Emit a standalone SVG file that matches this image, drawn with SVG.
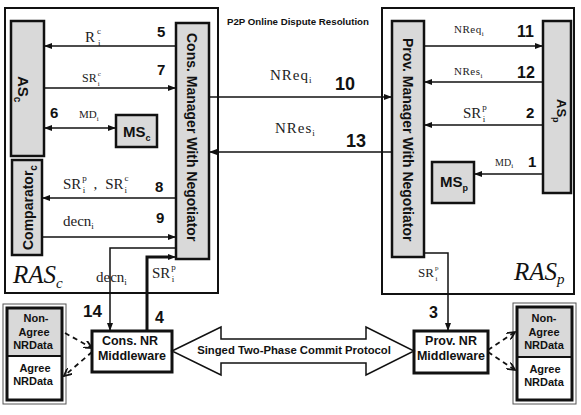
<svg xmlns="http://www.w3.org/2000/svg" width="581" height="415" viewBox="0 0 581 415">
<defs>
<marker id="ah" markerUnits="userSpaceOnUse" markerWidth="8" markerHeight="6" refX="8" refY="3" orient="auto-start-reverse"><path d="M0,0 L8,3 L0,6 z" fill="#111"/></marker>
<marker id="ahd" markerUnits="userSpaceOnUse" markerWidth="9" markerHeight="8" refX="8" refY="4" orient="auto"><path d="M0,0 L8,4 L0,8" fill="none" stroke="#111" stroke-width="1.8"/></marker>
</defs>
<style>
.frame{fill:#fff;stroke:#111;stroke-width:2}
.box{fill:#d9d9d9;stroke:#111;stroke-width:2.5}
.wbox{fill:#fff;stroke:#111;stroke-width:3}
.ln{fill:none;stroke:#111;stroke-width:1.5}
.thick{fill:none;stroke:#111;stroke-width:3}
.dash{fill:none;stroke:#111;stroke-width:1.8;stroke-dasharray:5,4}
.num{font-family:"Liberation Sans",Arial,sans-serif;font-weight:bold;fill:#111}
.bs{font-family:"Liberation Sans",Arial,sans-serif;font-weight:bold;fill:#111}
.sf{font-family:"Liberation Serif","Times New Roman",serif;fill:#222}
.it{font-family:"Liberation Serif","Times New Roman",serif;font-style:italic;fill:#111}
.s{font-size:9px}
.s7{font-size:7px}
</style>
<rect width="581" height="415" fill="#fff"/>

<g id="RASc"><rect class="frame" x="5" y="8" width="213" height="285"/>
<text class="it" x="13" y="283" font-size="25">RAS<tspan font-size="15" dy="5">c</tspan></text></g>
<g id="RASp"><rect class="frame" x="382" y="8" width="192" height="286"/>
<text class="it" x="514" y="280" font-size="25">RAS<tspan font-size="15" dy="4">p</tspan></text></g>

<text class="bs" x="227" y="25" font-size="9.7">P2P Online Dispute Resolution</text>

<g id="ASc"><rect class="box" x="11" y="21" width="33" height="135"/>
<text class="bs" font-size="15" transform="translate(18,76) rotate(90)">AS<tspan font-size="10" dy="4">c</tspan></text></g>
<g id="Comparator"><rect class="box" x="12" y="160" width="30" height="95"/>
<text class="bs" font-size="14" transform="translate(33,250) rotate(-90)">Comparator<tspan font-size="10" dy="4">c</tspan></text></g>
<g id="MSc"><rect class="box" x="116" y="115" width="41" height="32"/>
<text class="bs" x="123" y="137" font-size="15">MS<tspan font-size="9" dy="4">c</tspan></text></g>
<g id="ConsManager"><rect class="box" x="176" y="23" width="33" height="236"/>
<text class="bs" font-size="14" transform="translate(187,33) rotate(90)">Cons. Manager With Negotiator</text></g>

<g id="ProvManager"><rect class="box" x="392" y="21" width="32" height="236"/>
<text class="bs" font-size="14" transform="translate(403,38) rotate(90)">Prov. Manager With Negotiator</text></g>
<g id="ASp"><rect class="box" x="543" y="21" width="28" height="172"/>
<text class="bs" font-size="13" transform="translate(557,99) rotate(90)">AS<tspan font-size="9" dy="4">p</tspan></text></g>
<g id="MSp"><rect class="box" x="432" y="162" width="42" height="41"/>
<text class="bs" x="440" y="187" font-size="15">MS<tspan font-size="9" dy="4">p</tspan></text></g>

<g id="ConsNR"><rect class="wbox" x="92" y="331" width="80" height="41"/>
<text class="bs" x="130" y="345" font-size="12.5" text-anchor="middle">Cons. NR</text>
<text class="bs" x="132" y="360" font-size="12.5" text-anchor="middle">Middleware</text></g>
<g id="ProvNR"><rect class="wbox" x="414" y="331" width="74" height="42"/>
<text class="bs" x="451" y="345" font-size="12.5" text-anchor="middle">Prov. NR</text>
<text class="bs" x="451" y="360" font-size="12.5" text-anchor="middle">Middleware</text></g>

<g id="DataC"><rect x="3" y="304" width="63" height="100" fill="#fff" stroke="#555" stroke-width="1"/>
<rect x="7" y="308" width="55" height="48" fill="#d9d9d9"/>
<rect x="7" y="308" width="55" height="92" fill="none" stroke="#111" stroke-width="3"/>
<line x1="7" y1="356" x2="62" y2="356" stroke="#111" stroke-width="2"/>
<text class="bs" font-size="11" text-anchor="middle"><tspan x="36" y="322">Non-</tspan><tspan x="34" y="336">Agree</tspan><tspan x="33" y="349">NRData</tspan><tspan x="35" y="372">Agree</tspan><tspan x="33" y="385">NRData</tspan></text></g>
<g id="DataP"><rect x="513" y="303" width="63" height="101" fill="#fff" stroke="#555" stroke-width="1"/>
<rect x="517" y="307" width="55" height="50" fill="#d9d9d9"/>
<rect x="517" y="307" width="55" height="93" fill="none" stroke="#111" stroke-width="3"/>
<line x1="517" y1="357" x2="572" y2="357" stroke="#111" stroke-width="2"/>
<text class="bs" font-size="11" text-anchor="middle"><tspan x="544" y="322">Non-</tspan><tspan x="544" y="336">Agree</tspan><tspan x="544" y="349">NRData</tspan><tspan x="545" y="373">Agree</tspan><tspan x="544" y="386">NRData</tspan></text></g>

<g id="connectors">
<line class="ln" x1="176" y1="46" x2="44" y2="46" marker-end="url(#ah)"/>
<line class="ln" x1="44" y1="88" x2="176" y2="88" marker-end="url(#ah)"/>
<line class="ln" x1="44" y1="128" x2="116" y2="128" marker-start="url(#ah)" marker-end="url(#ah)"/>
<line class="ln" x1="176" y1="198" x2="42" y2="198" marker-end="url(#ah)"/>
<line class="ln" x1="42" y1="237" x2="176" y2="237" marker-end="url(#ah)"/>
<polyline class="ln" points="176,248 110,248 110,331" marker-end="url(#ah)"/>
<polyline class="thick" points="147,331 147,257 168,257"/>
<line class="ln" x1="166" y1="257" x2="176" y2="257" marker-end="url(#ah)"/>
<line class="ln" x1="209" y1="97" x2="392" y2="97" marker-end="url(#ah)"/>
<line class="ln" x1="392" y1="152" x2="209" y2="152" marker-end="url(#ah)"/>
<line class="ln" x1="424" y1="46" x2="543" y2="46" marker-end="url(#ah)"/>
<line class="ln" x1="543" y1="82" x2="424" y2="82" marker-end="url(#ah)"/>
<line class="ln" x1="543" y1="125" x2="424" y2="125" marker-end="url(#ah)"/>
<line class="ln" x1="543" y1="174" x2="474" y2="174" marker-end="url(#ah)"/>
<polyline class="ln" points="424,253 448,253 448,331" marker-end="url(#ah)"/>
<line class="dash" x1="65" y1="333" x2="92" y2="348" marker-end="url(#ahd)"/>
<line class="dash" x1="92" y1="352" x2="64" y2="376" marker-end="url(#ahd)"/>
<line class="dash" x1="488" y1="350" x2="515" y2="332" marker-end="url(#ahd)"/>
<line class="dash" x1="488" y1="352" x2="515" y2="370" marker-end="url(#ahd)"/>
<polygon points="172,351 221,327 221,339 366,339 366,327 414,351 366,375 366,363 221,363 221,375" fill="#fff" stroke="#111" stroke-width="1.5"/>
<text class="bs" x="294" y="354" font-size="11.3" text-anchor="middle">Singed Two-Phase Commit Protocol</text>
</g>

<g id="labels">
<text class="num" x="157" y="37" font-size="15">5</text>
<text class="num" x="157" y="75" font-size="15">7</text>
<text class="num" x="50" y="118" font-size="15">6</text>
<text class="num" x="155" y="192" font-size="15">8</text>
<text class="num" x="156" y="223" font-size="15">9</text>
<text class="num" x="335" y="90" font-size="18">10</text>
<text class="num" x="346" y="147" font-size="18">13</text>
<text class="num" x="517" y="37" font-size="16">11</text>
<text class="num" x="517" y="78" font-size="16">12</text>
<text class="num" x="526" y="118" font-size="15">2</text>
<text class="num" x="528" y="167" font-size="15">1</text>
<text class="num" x="83" y="317" font-size="17">14</text>
<text class="num" x="155" y="323" font-size="16">4</text>
<text class="num" x="429" y="318" font-size="16">3</text>

<text class="sf" x="85" y="42" font-size="15">R<tspan class="s" dx="2" dy="-8">c</tspan><tspan class="s" dx="-3" dy="12">i</tspan></text>
<text class="sf" x="82" y="82" font-size="12">SR<tspan class="s7" dx="1" dy="-6">c</tspan><tspan class="s7" dx="-3" dy="10">i</tspan></text>
<text class="sf" x="79" y="118" font-size="11">MD<tspan class="s7" dy="3">i</tspan></text>
<text class="sf" x="63" y="189" font-size="15">SR<tspan class="s" dx="1" dy="-8">p</tspan><tspan class="s" dx="-4" dy="12">i</tspan><tspan dx="8" dy="-4">,</tspan><tspan dx="8">SR</tspan><tspan class="s" dx="1" dy="-8">c</tspan><tspan class="s" dx="-4" dy="12">i</tspan></text>
<text class="sf" x="63" y="226" font-size="15">decn<tspan class="s" dy="3">i</tspan></text>
<text class="sf" x="96" y="282" font-size="15">decn<tspan class="s" dy="3">i</tspan></text>
<text class="sf" x="152" y="278" font-size="15">SR<tspan class="s" dx="1" dy="-8">p</tspan><tspan class="s" dx="-4" dy="12">i</tspan></text>
<text class="sf" x="270" y="80" font-size="15" letter-spacing="1">NReq<tspan class="s" dy="3" letter-spacing="0">i</tspan></text>
<text class="sf" x="275" y="133" font-size="15" letter-spacing="1">NRes<tspan class="s" dy="3" letter-spacing="0">i</tspan></text>
<text class="sf" x="454" y="33" font-size="11" letter-spacing="0.5">NReq<tspan class="s7" dy="3" letter-spacing="0">i</tspan></text>
<text class="sf" x="454" y="75" font-size="11" letter-spacing="0.5">NRes<tspan class="s7" dy="3" letter-spacing="0">i</tspan></text>
<text class="sf" x="463" y="118" font-size="15">SR<tspan class="s" dx="1" dy="-8">p</tspan><tspan class="s" dx="-4" dy="12">i</tspan></text>
<text class="sf" x="495" y="166" font-size="10">MD<tspan class="s7" dy="2">i</tspan></text>
<text class="sf" x="418" y="277" font-size="13">SR<tspan class="s7" dx="1" dy="-7">p</tspan><tspan class="s7" dx="-3" dy="11">i</tspan></text>
</g>
</svg>
